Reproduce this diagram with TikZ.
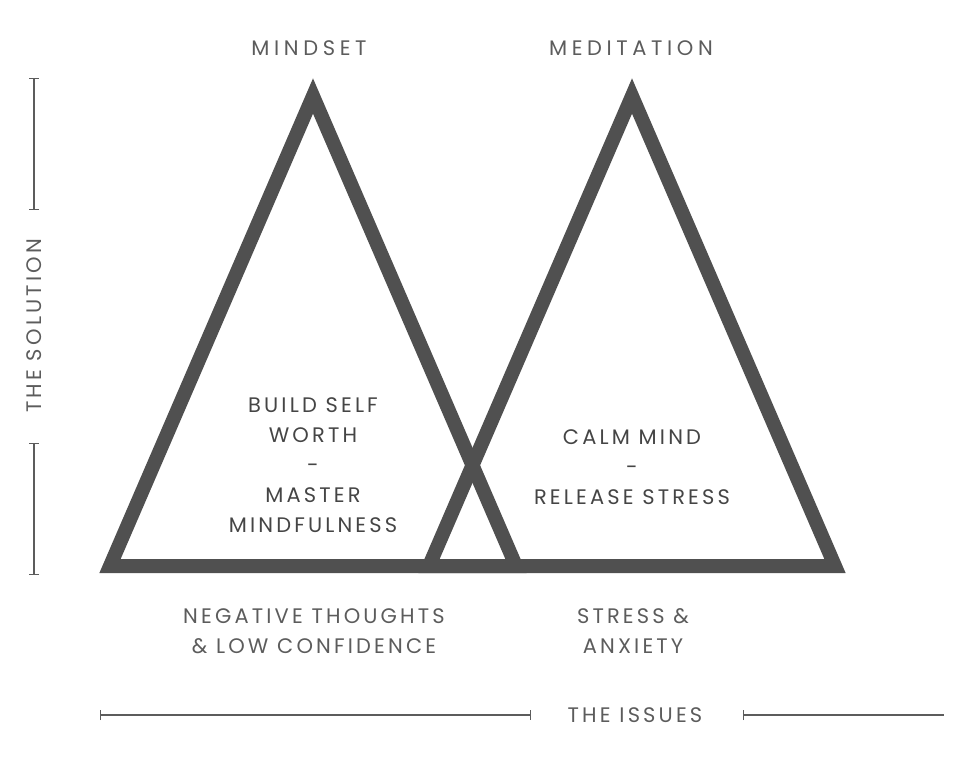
\documentclass[tikz,border=0pt]{standalone}
\usepackage{fontspec}
\setmainfont{Poppins}
\usetikzlibrary{arrows.meta}
\definecolor{darkgrey}{HTML}{505050}
\definecolor{textgrey}{HTML}{454545}
\definecolor{lightgrey}{HTML}{5C5C5C}
\newfontfamily\spacedfont[LetterSpace=15]{Poppins}
\newfontfamily\widefont[LetterSpace=22]{Poppins}
\tikzstyle{triangle}=[draw=darkgrey, line width=14pt, line join=miter]
\tikzstyle{inside}=[font=\spacedfont\fontsize{21}{30}\selectfont, text=textgrey, align=center, inner sep=0pt]
\tikzstyle{issue}=[inside, text=lightgrey]
\tikzstyle{title}=[font=\widefont\fontsize{21}{24}\selectfont, text=lightgrey, inner sep=0pt]
\tikzstyle{axis}=[draw=lightgrey, line width=1.3pt]
\tikzstyle{ticked}=[axis, {Bar[width=10pt]-Bar[width=10pt]}]
\tikzstyle{halfticked}=[axis, {Bar[width=10pt]-}]

\begin{document}
\begin{tikzpicture}[x=1pt, y=-1pt]
	\useasboundingbox (0,0) rectangle (956,756);
	
	% the two triangles
	\coordinate (mtop) at (313,96);
	\coordinate (mleft) at (110,566);
	\coordinate (mright) at (516,566);
	\coordinate (ctop) at (632,96);
	\coordinate (cleft) at (429,566);
	\coordinate (cright) at (835,566);
	\draw[triangle] (mtop) -- (mright) -- (mleft) -- cycle;
	\draw[triangle] (ctop) -- (cright) -- (cleft) -- cycle;
	
	\node[title] (mindset) at (309,48) {MINDSET};
	\node[title] (meditation) at (631,48) {MEDITATION};
	
	\node[inside] (worth) at (313,465) {BUILD SELF\\WORTH\\-\\MASTER\\MINDFULNESS};
	\node[inside] (calm) at (632,467) {CALM MIND\\-\\RELEASE STRESS};
	
	\node[issue] (negative) at (314,631) {NEGATIVE THOUGHTS\\\& LOW CONFIDENCE};
	\node[issue] (stress) at (633,631) {STRESS \&\\ANXIETY};
	
	% axes
	\coordinate (solA) at (34,78);
	\coordinate (solB) at (34,210);
	\coordinate (solC) at (34,443);
	\coordinate (solD) at (34,575);
	\node[issue, rotate=90] (solution) at (34,326) {THE SOLUTION};
	\draw[ticked] (solA) -- (solB);
	\draw[ticked] (solC) -- (solD);
	
	\coordinate (issA) at (100,715);
	\coordinate (issB) at (531,715);
	\coordinate (issC) at (743,715);
	\coordinate (issD) at (944,715);
	\node[issue] (issues) at (635,715) {THE ISSUES};
	\draw[ticked] (issA) -- (issB);
	\draw[halfticked] (issC) -- (issD);
\end{tikzpicture}
\end{document}
